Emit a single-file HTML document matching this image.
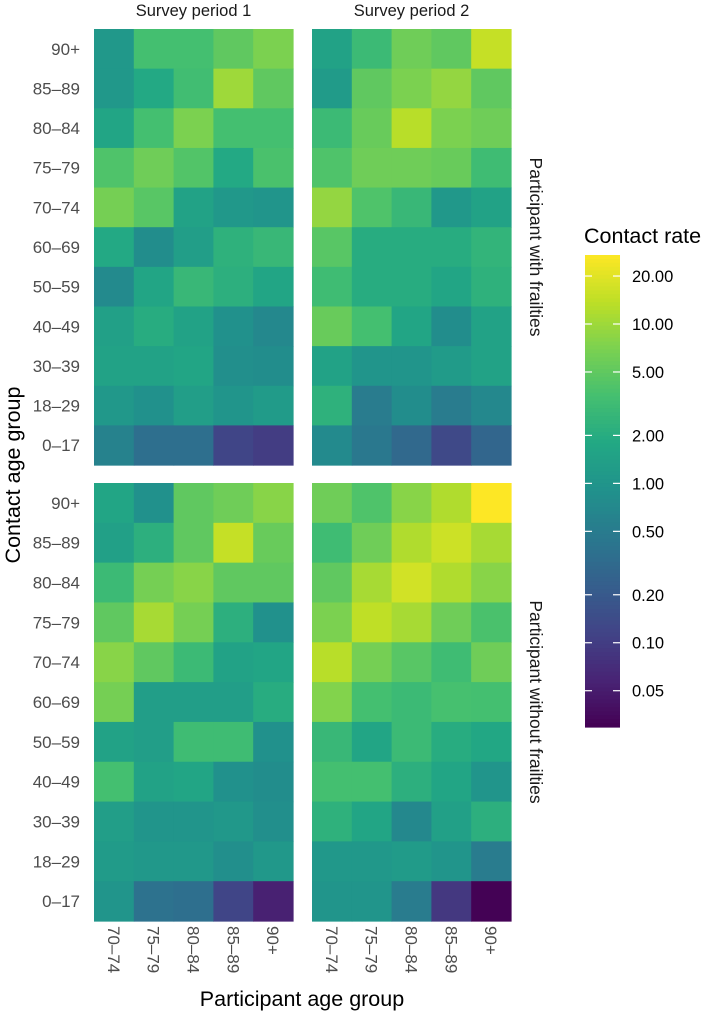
<!DOCTYPE html>
<html><head><meta charset="utf-8"><style>
html,body{margin:0;padding:0;background:#fff;}
svg{display:block;font-family:"Liberation Sans",sans-serif;}
</style></head><body>
<svg id="chart" width="708" height="1015" viewBox="0 0 708 1015" xmlns="http://www.w3.org/2000/svg">
<g id="cells"></g><g id="labels"></g><g id="legend"></g>
</svg>
<script>
const contactGroups = ["90+","85–89","80–84","75–79","70–74","60–69","50–59","40–49","30–39","18–29","0–17"];
const participantGroups = ["70–74","75–79","80–84","85–89","90+"];
const periods = ["Survey period 1","Survey period 2"];
const frailtyGroups = ["Participant with frailties","Participant without frailties"];
const legendTicks = [20,10,5,2,1,0.5,0.2,0.1,0.05];
const legendTickLabels = ["20.00","10.00","5.00","2.00","1.00","0.50","0.20","0.10","0.05"];
const rateMin = 0.0296, rateMax = 27.1;
const frailP1 = [
[1.1,3.5,3.5,5,7],[1.1,1.8,3.3,10,5],[1.6,3.5,7,3.5,3.5],[4,6,4.2,1.8,3.8],[6.5,4.5,1.5,1.1,1.0],
[1.8,0.8,1.3,2.3,2.8],[0.75,1.6,2.8,2.2,1.6],[1.4,2.0,1.5,0.9,0.7],[1.5,1.5,1.6,0.85,0.8],[1.1,0.9,1.3,1.0,1.2],[0.6,0.35,0.35,0.12,0.1]];
const frailP2 = [
[1.5,3.0,6,5,15],[1.2,5,7,9,5],[3.0,5.5,13,7,6],[4,6,6,5.5,3.2],[9,4,2.8,1.1,1.5],
[4.5,2.0,2.0,2.0,2.5],[3.2,2.0,2.0,1.6,2.3],[5.5,3.5,1.6,0.8,1.5],[1.5,1.0,1.0,1.2,1.5],[2.3,0.5,0.8,0.5,0.7],[0.75,0.45,0.3,0.13,0.28]];
const nonFrailP1 = [
[1.6,0.9,5,6,8],[1.4,2.2,5,15,5.5],[3.0,6.5,8,5,5],[5,11,6.5,2.2,0.9],[8,5,3.0,1.5,1.6],
[6.5,1.3,1.3,1.3,2.0],[1.5,1.3,3.2,3.2,0.9],[3.5,1.5,1.6,0.9,0.8],[1.3,1.0,1.0,1.1,0.85],[1.2,1.1,1.1,0.85,1.1],[1.0,0.38,0.35,0.12,0.055]];
const nonFrailP2 = [
[6,4,8,12,27],[3.2,6,12,16,11],[5,11,17,12,8],[7,14,11,6,3.8],[13,6.5,4.5,3.2,6],
[7.5,3.5,3.0,3.6,3.5],[2.8,1.6,3.0,2.0,1.7],[3.5,3.5,2.2,1.6,1.0],[2.3,1.6,0.7,1.4,2.2],[1.1,1.1,1.2,1.0,0.5],[1.0,1.0,0.5,0.09,0.03]];

const VIR=[[68,1,84],[72,36,117],[65,68,135],[53,95,141],[42,120,142],[33,145,140],[34,168,132],[68,191,112],[122,209,81],[189,223,38],[253,231,37]];
function viridis(t){t=Math.max(0,Math.min(1,t));const p=t*10,i=Math.min(9,Math.floor(p)),f=p-i;const a=VIR[i],b=VIR[i+1];
return "rgb("+a.map((v,k)=>Math.round(v+(b[k]-v)*f)).join(",")+")";}
function colorT(v){return (Math.log10(v)-Math.log10(rateMin))/(Math.log10(rateMax)-Math.log10(rateMin));}
const NS="http://www.w3.org/2000/svg";
function mk(tag,attrs,parent,text){const e=document.createElementNS(NS,tag);for(const k in attrs)e.setAttribute(k,attrs[k]);if(text!==undefined)e.textContent=text;parent.appendChild(e);return e;}
const panelX=[94,312], panelY=[29,483], colW=39.8, rowH=[39.64,39.82];
function xPos(p,c){return panelX[p]+c*colW;}
function yPos(f,r){return panelY[f]+r*rowH[f];}
const panels=[[frailP1,frailP2],[nonFrailP1,nonFrailP2]];
const cells=document.getElementById('cells'), labels=document.getElementById('labels'), legend=document.getElementById('legend');
for(let f=0;f<2;f++)for(let p=0;p<2;p++){const data=panels[f][p];
 for(let r=0;r<contactGroups.length;r++)for(let c=0;c<participantGroups.length;c++){
  const el=mk('rect',{x:xPos(p,c),y:yPos(f,r),width:colW+0.6,height:rowH[f]+0.6,fill:viridis(colorT(data[r][c]))},cells);
  
  
 }}
for(let f=0;f<2;f++)for(let r=0;r<contactGroups.length;r++){
 const t=mk('text',{x:80,y:yPos(f,r)+rowH[f]/2+6,'text-anchor':'end','font-size':17,fill:'#4d4d4d'},labels,contactGroups[r]);
 
 
}
for(let p=0;p<2;p++)for(let c=0;c<participantGroups.length;c++){
 const cx=xPos(p,c)+colW/2-6;
 const t=mk('text',{x:cx,y:926,transform:'rotate(90 '+cx+' 926)','font-size':17,fill:'#4d4d4d'},labels,participantGroups[c]);
 
 
}
for(let p=0;p<2;p++){const t=mk('text',{x:panelX[p]+colW*2.5,y:16,'text-anchor':'middle','font-size':16.5,fill:'#1a1a1a'},labels,periods[p]);
 
 }
for(let f=0;f<2;f++){const cy=panelY[f]+rowH[f]*5.5, x=530;
 const t=mk('text',{x:x,y:cy,transform:'rotate(90 '+x+' '+cy+')','text-anchor':'middle','font-size':17.5,fill:'#1a1a1a'},labels,frailtyGroups[f]);
 
 }
{const t=mk('text',{x:20,y:475,transform:'rotate(-90 20 475)','text-anchor':'middle','font-size':21.5,fill:'#000'},labels,'Contact age group');
 
 const u=mk('text',{x:302,y:1006,'text-anchor':'middle','font-size':21.5,fill:'#000'},labels,'Participant age group');
 }
const lgTop=255,lgBot=727,lgX=585,lgW=35;
function lgY(v){return lgTop+(Math.log10(rateMax)-Math.log10(v))/(Math.log10(rateMax)-Math.log10(rateMin))*(lgBot-lgTop);}
{const t=mk('text',{x:584,y:243,'font-size':21.5,fill:'#000'},legend,'Contact rate');
 }
const N=120;
for(let i=0;i<N;i++){const y0=lgTop+i*(lgBot-lgTop)/N;
 const r=mk('rect',{x:lgX,y:y0,width:lgW,height:(lgBot-lgTop)/N+0.6,fill:viridis(1-(i+0.5)/N)},legend);
 
 }
for(let i=0;i<legendTicks.length;i++){const y=lgY(legendTicks[i]);
 const a=mk('line',{x1:lgX,x2:lgX+7,y1:y,y2:y,stroke:'#fff','stroke-width':1.2},legend);
 
 const b=mk('line',{x1:lgX+lgW-7,x2:lgX+lgW,y1:y,y2:y,stroke:'#fff','stroke-width':1.2},legend);
 
 const t=mk('text',{x:632,y:y+6,'font-size':16.5,fill:'#000'},legend,legendTickLabels[i]);
 }
</script>
</body></html>
